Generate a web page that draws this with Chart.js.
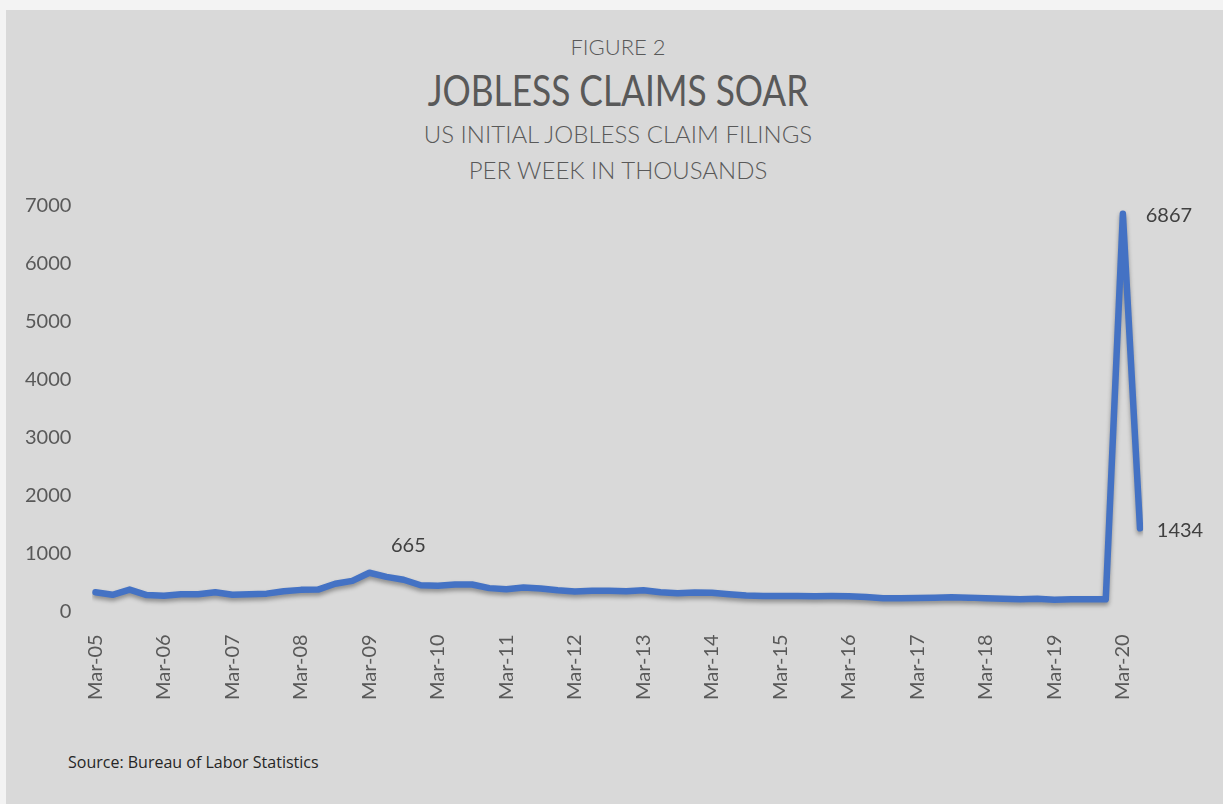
<!DOCTYPE html>
<html>
<head>
<meta charset="utf-8">
<script src="https://cdn.jsdelivr.net/npm/chart.js@4"></script>
<style>
  body { margin: 0; background: #f3f3f3; width: 1223px; height: 804px; overflow: hidden; font-family: Lato, sans-serif; }
  #panel { position: absolute; left: 6px; top: 10px; width: 1217px; height: 794px; background: #d9d9d9; }
  .head { position: absolute; left: 0; width: 1236px; text-align: center; color: #595959; font-weight: 300; white-space: nowrap; }
  #fig { top: 33px; font-size: 22px; }
  #title { top: 64px; font-size: 43px; font-weight: 400; transform: scaleX(0.82); }
  #sub1 { top: 119px; font-size: 24px; }
  #sub2 { top: 155px; font-size: 24px; }
  #source { position: absolute; left: 68px; top: 751px; font-family: "Open Sans", sans-serif; font-size: 16px; color: #262626; }
  canvas { position: absolute; left: 0; top: 0; }
</style>
</head>
<body>
<div id="panel"></div>
<div class="head" id="fig">FIGURE 2</div>
<div class="head" id="title">JOBLESS CLAIMS SOAR</div>
<div class="head" id="sub1">US INITIAL JOBLESS CLAIM FILINGS</div>
<div class="head" id="sub2">PER WEEK IN THOUSANDS</div>
<div id="source">Source: Bureau of Labor Statistics</div>
<canvas id="claimsChart" width="1223" height="804"></canvas>
<script>
// quarterly labels, only the March ones are shown on the axis
const quarters = [
  "Mar-05","Jun-05","Sep-05","Dec-05","Mar-06","Jun-06","Sep-06","Dec-06",
  "Mar-07","Jun-07","Sep-07","Dec-07","Mar-08","Jun-08","Sep-08","Dec-08",
  "Mar-09","Jun-09","Sep-09","Dec-09","Mar-10","Jun-10","Sep-10","Dec-10",
  "Mar-11","Jun-11","Sep-11","Dec-11","Mar-12","Jun-12","Sep-12","Dec-12",
  "Mar-13","Jun-13","Sep-13","Dec-13","Mar-14","Jun-14","Sep-14","Dec-14",
  "Mar-15","Jun-15","Sep-15","Dec-15","Mar-16","Jun-16","Sep-16","Dec-16",
  "Mar-17","Jun-17","Sep-17","Dec-17","Mar-18","Jun-18","Sep-18","Dec-18",
  "Mar-19","Jun-19","Sep-19","Dec-19","Mar-20","Jun-20"
];

// initial claims, thousands
const claims = [
  330, 285, 375, 280, 268, 295, 295, 330,
  285, 295, 305, 345, 370, 375, 475, 525,
  665, 595, 545, 450, 440, 462, 462, 400,
  380, 412, 392, 362, 340, 355, 355, 345,
  362, 328, 310, 325, 322, 295, 272, 265,
  265, 262, 260, 262, 258, 246, 225, 225,
  230, 236, 241, 236, 224, 218, 207, 218,
  201, 207, 207, 207, 6867, 1434
];

const yTicks = [0, 1000, 2000, 3000, 4000, 5000, 6000, 7000];

// points that get a value label
const labelledPoints = [16, 60, 61];
const labelOffsets = { 16: [39, -27], 60: [46, 2], 61: [40, 2] };

const lineShadow = {
  id: "lineShadow",
  beforeDatasetDraw(chart) {
    const c = chart.ctx;
    c.save();
    c.shadowColor = "rgba(0,0,0,0.35)";
    c.shadowBlur = 4;
    c.shadowOffsetY = 3;
  },
  afterDatasetDraw(chart) {
    chart.ctx.restore();
  }
};

const valueLabels = {
  id: "valueLabels",
  afterDatasetsDraw(chart) {
    const c = chart.ctx;
    const meta = chart.getDatasetMeta(0);
    c.save();
    c.font = "20px Lato";
    c.fillStyle = "#404040";
    c.textAlign = "center";
    c.textBaseline = "middle";
    labelledPoints.forEach(i => {
      const pt = meta.data[i];
      const off = labelOffsets[i];
      c.fillText(String(claims[i]), pt.x + off[0], pt.y + off[1]);
    });
    c.restore();
  }
};

new Chart(document.getElementById("claimsChart"), {
  type: "line",
  data: {
    labels: quarters,
    datasets: [{
      data: claims,
      borderColor: "#4472c4",
      borderWidth: 6.5,
      pointRadius: 0,
      tension: 0,
      borderCapStyle: "round",
      borderJoinStyle: "round"
    }]
  },
  options: {
    responsive: false,
    animation: false,
    layout: { padding: { left: 9, right: 83, top: 206, bottom: 89 } },
    plugins: { legend: { display: false }, tooltip: { enabled: false } },
    scales: {
      x: {
        grid: { display: false },
        border: { display: false },
        ticks: {
          autoSkip: false,
          minRotation: 90,
          maxRotation: 90,
          padding: 15,
          color: "#595959",
          font: { family: "Lato", size: 20 },
          callback: (v, i) => quarters[i].startsWith("Mar") ? quarters[i] : null
        }
      },
      y: {
        min: yTicks[0],
        max: yTicks[yTicks.length - 1],
        grid: { display: false },
        border: { display: false },
        afterBuildTicks: axis => { axis.ticks = yTicks.map(v => ({ value: v })); },
        ticks: {
          padding: 16,
          color: "#595959",
          font: { family: "Lato", size: 20 },
          callback: v => String(v)
        }
      }
    }
  },
  plugins: [lineShadow, valueLabels]
});
</script>
</body>
</html>
